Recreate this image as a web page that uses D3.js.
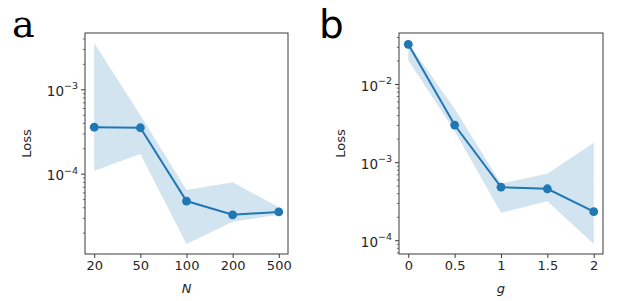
<!DOCTYPE html>
<html lang="en">
<head>
<meta charset="utf-8">
<script src="https://cdnjs.cloudflare.com/ajax/libs/d3/7.8.5/d3.min.js"></script>
<title>Loss panels</title>
<style>
  body { margin: 0; background: #fff; }
  svg { display: block; }
</style>
</head>
<body>
<script>
var w = 617, h = 301;

// panel a: loss vs N
var nLabels = ["20", "50", "100", "200", "500"];
var lossN = [3.6e-4, 3.55e-4, 4.8e-5, 3.3e-5, 3.57e-5];
var lossNHigh = [3.58e-3, 5.0e-4, 6.5e-5, 8.0e-5, 4.07e-5];
var lossNLow = [1.1e-4, 1.74e-4, 1.49e-5, 2.74e-5, 3.3e-5];

// panel b: loss vs g
var gLabels = ["0", "0.5", "1", "1.5", "2"];
var lossG = [3.27e-2, 3.03e-3, 4.86e-4, 4.63e-4, 2.36e-4];
var lossGHigh = [3.4e-2, 4.9e-3, 5.4e-4, 7.2e-4, 1.8e-3];
var lossGLow = [2.05e-2, 2.55e-3, 2.28e-4, 3.2e-4, 9.1e-5];

var blue = "#1f77b4";
var ink = "#262626";
var svg = d3.select("body").append("svg").attr("width", w).attr("height", h);

function panel(opt) {
    var x0 = opt.left, x1 = opt.right, y0 = 33, y1 = 254;
    var g = svg.append("g");

    var x = d3.scalePoint().domain(opt.cats).range([x0, x1]).padding(0.2);

    // matplotlib-like 5% margin in log space
    var all = opt.low.concat(opt.high, opt.vals);
    var lo = Math.log10(d3.min(all)), hi = Math.log10(d3.max(all));
    var m = (hi - lo) * 0.05;
    var y = d3.scaleLog().domain([Math.pow(10, lo - m), Math.pow(10, hi + m)]).range([y1, y0]);

    var rows = opt.cats.map(function(c, i) {
        return { c: c, v: opt.vals[i], lo: opt.low[i], hi: opt.high[i] };
    });

    // shaded band
    g.append("path")
        .datum(rows)
        .attr("fill", blue)
        .attr("fill-opacity", 0.2)
        .attr("d", d3.area()
            .x(function(d) { return x(d.c); })
            .y0(function(d) { return y(d.lo); })
            .y1(function(d) { return y(d.hi); }));

    g.append("path")
        .datum(rows)
        .attr("fill", "none")
        .attr("stroke", blue)
        .attr("stroke-width", 2)
        .attr("d", d3.line()
            .x(function(d) { return x(d.c); })
            .y(function(d) { return y(d.v); }));

    g.selectAll("circle")
        .data(rows)
        .enter()
        .append("circle")
        .attr("cx", function(d) { return x(d.c); })
        .attr("cy", function(d) { return y(d.v); })
        .attr("r", 4.4)
        .attr("fill", blue);

    // frame
    g.append("rect")
        .attr("x", x0).attr("y", y0)
        .attr("width", x1 - x0).attr("height", y1 - y0)
        .attr("fill", "none").attr("stroke", "#3a3a3a").attr("stroke-width", 1);

    // x axis
    var xa = g.append("g").attr("transform", "translate(0," + y1 + ")")
        .call(d3.axisBottom(x).tickSize(4).tickPadding(3));
    xa.select(".domain").remove();
    xa.selectAll("line").attr("stroke", "#3a3a3a");
    xa.selectAll("text")
        .style("font-size", "13px")
        .style("font-family", "DejaVu Sans")
        .style("fill", ink);

    g.append("text")
        .attr("x", (x0 + x1) / 2).attr("y", 293)
        .attr("text-anchor", "middle")
        .style("font-family", "DejaVu Sans")
        .style("font-size", "13px")
        .style("font-style", "italic")
        .style("fill", ink)
        .text(opt.xlabel);

    // y ticks: minor and major
    var dom = y.domain();
    var ticks = [];
    for (var e = Math.floor(Math.log10(dom[0])); e <= Math.ceil(Math.log10(dom[1])); e++) {
        for (var k = 1; k < 10; k++) {
            var v = k * Math.pow(10, e);
            if (v >= dom[0] && v <= dom[1]) ticks.push({ v: v, major: k === 1, e: e });
        }
    }
    g.selectAll(".ytick")
        .data(ticks)
        .enter()
        .append("line")
        .attr("x1", function(d) { return x0 - (d.major ? 4 : 2.2); })
        .attr("x2", x0)
        .attr("y1", function(d) { return y(d.v); })
        .attr("y2", function(d) { return y(d.v); })
        .attr("stroke", "#3a3a3a")
        .attr("stroke-width", function(d) { return d.major ? 1 : 0.7; });

    var lab = g.selectAll(".ylab")
        .data(ticks.filter(function(d) { return d.major; }))
        .enter()
        .append("text")
        .attr("x", x0 - 7)
        .attr("y", function(d) { return y(d.v) + 6; })
        .attr("text-anchor", "end")
        .style("font-family", "DejaVu Sans")
        .style("font-size", "13.5px")
        .style("fill", ink);
    lab.append("tspan").text("10");
    lab.append("tspan")
        .attr("dy", -6.5)
        .style("font-size", "9.5px")
        .text(function(d) { return "\u2212" + Math.abs(d.e); });

    g.append("text")
        .attr("transform", "translate(" + (x0 - 54) + "," + ((y0 + y1) / 2) + ") rotate(-90)")
        .attr("text-anchor", "middle")
        .style("font-family", "DejaVu Sans")
        .style("font-size", "13px")
        .style("fill", ink)
        .text("Loss");
}

panel({ left: 85, right: 288, cats: nLabels, vals: lossN, high: lossNHigh, low: lossNLow, xlabel: "N" });
panel({ left: 399, right: 603, cats: gLabels, vals: lossG, high: lossGHigh, low: lossGLow, xlabel: "g" });

// panel letters
svg.append("text").attr("x", 12).attr("y", 37)
    .style("font-family", "DejaVu Serif").style("font-size", "38px").style("fill", "#000").text("a");
svg.append("text").attr("x", 319).attr("y", 38)
    .style("font-family", "DejaVu Sans").style("font-size", "39px").style("fill", "#000").text("b");
</script>
</body>
</html>
